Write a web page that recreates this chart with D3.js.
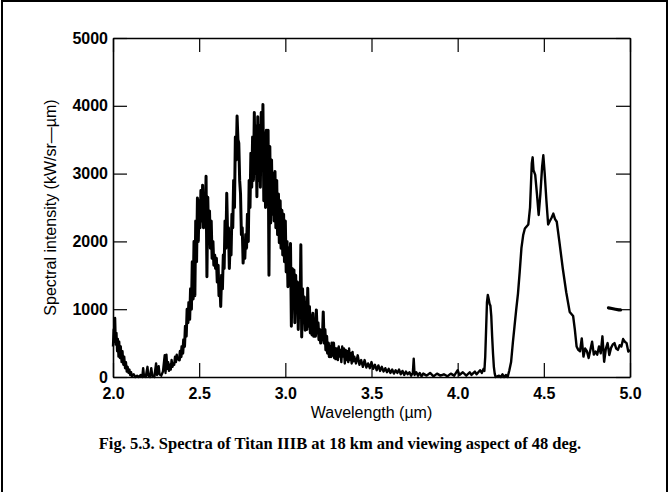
<!DOCTYPE html>
<html>
<head>
<meta charset="utf-8">
<script src="https://cdn.jsdelivr.net/npm/d3@7"></script>
<style>
  html, body { margin: 0; padding: 0; background: #fff; }
  svg { display: block; }
  .tick-label { font-family: "Liberation Sans", Arial, Helvetica, sans-serif; font-weight: bold; font-size: 16px; fill: #000; }
  .axis-title { font-family: "Liberation Sans", Arial, Helvetica, sans-serif; font-size: 16px; fill: #000; }
  .caption { font-family: "Liberation Serif", "Times New Roman", serif; font-weight: bold; font-size: 16.5px; fill: #000; }
</style>
</head>
<body>
<script>
// ---------------- data ----------------
const xTicks = [2.0, 2.5, 3.0, 3.5, 4.0, 4.5, 5.0];
const yTicks = [0, 1000, 2000, 3000, 4000, 5000];
const xTitle = "Wavelength (\u00b5m)";
const yTitle = "Spectral intensity (kW/sr\u2014\u00b5m)";
const caption = "Fig. 5.3. Spectra of Titan IIIB at 18 km and viewing aspect of 48 deg.";

// [wavelength (um), spectral intensity (kW/sr-um)]
const specShortWave = [
  [2.000,450],[2.004,700],[2.008,520],[2.012,870],[2.016,480],[2.020,650],[2.024,380],[2.028,560],
  [2.032,300],[2.036,520],[2.040,280],[2.045,450],[2.050,220],[2.055,380],[2.060,180],[2.065,300],
  [2.070,130],[2.075,220],[2.080,80],[2.085,150],[2.090,60],[2.095,110],[2.100,30],[2.105,70],
  [2.110,10],[2.120,40],[2.130,0],[2.140,20],[2.150,0],[2.160,30],[2.170,0],[2.175,130],
  [2.180,10],[2.190,0],[2.200,150],[2.205,20],[2.215,0],[2.222,130],[2.228,20],[2.240,0],
  [2.250,200],[2.255,30],[2.265,160],[2.270,40],[2.280,20],[2.290,80],[2.300,320],[2.305,60],
  [2.310,330],[2.315,120],[2.320,220],[2.325,90],[2.330,180],[2.335,110],[2.340,250],[2.345,150],
  [2.350,200],[2.355,180],[2.360,300],[2.365,220],[2.370,330],[2.375,260]
];

const specMainBand = [
  [2.380,300],[2.385,250],[2.390,380],[2.395,300],[2.400,450],[2.405,350],[2.410,550],[2.415,450],
  [2.420,750],[2.425,600],[2.430,1000],[2.435,800],[2.440,1100],[2.445,850],[2.450,1300],[2.455,1000],
  [2.460,1700],[2.465,1150],[2.470,2000],[2.475,1200],[2.480,2300],[2.485,1700],[2.490,2640],[2.495,2000],
  [2.500,2600],[2.505,2200],[2.510,2750],[2.515,2300],[2.520,2830],[2.525,2200],[2.530,2700],[2.535,2300],
  [2.540,2960],[2.545,1480],[2.550,2650],[2.555,2000],[2.560,2450],[2.565,1900],[2.570,2300],[2.575,1750],
  [2.580,2000],[2.585,1650],[2.590,1800],[2.595,1600],[2.600,1750],[2.605,1400],[2.610,1650],[2.615,1200],
  [2.620,1400],[2.625,1040],[2.630,1500],[2.635,1300],[2.640,1800],[2.645,1600],[2.650,2300],[2.655,1900],
  [2.660,2710],[2.665,2100],[2.670,2200],[2.675,1600],[2.680,2000],[2.685,1800],[2.690,2400],[2.695,2200],
  [2.700,2900],[2.705,2500],[2.710,3540],[2.715,3200],[2.720,3850],[2.725,3500],[2.730,3450],[2.735,2900],
  [2.740,2700],[2.745,2100],[2.750,2200],[2.755,1680],[2.760,1900],[2.765,1750],[2.770,2100],[2.775,1900],
  [2.780,2400],[2.785,2000],[2.790,2900],[2.795,2500],[2.800,3300],[2.805,2800],[2.810,3540],[2.815,2900],
  [2.820,3900],[2.825,3000],[2.830,3700],[2.835,2660],[2.840,3840],[2.845,2900],[2.850,3700],[2.855,2800],
  [2.860,3900],[2.865,3150],[2.870,4020],[2.875,2600],[2.880,3600],[2.885,2500],[2.890,3640],[2.895,2800],
  [2.900,3640],[2.905,1500],[2.910,3400],[2.915,2270],[2.920,3200],[2.925,2400],[2.930,3000],[2.935,2300],
  [2.940,3030],[2.945,2200],[2.950,2900],[2.955,2100],[2.960,2700],[2.965,1980],[2.970,2600],[2.975,1900],
  [2.980,2460],[2.985,1800],[2.990,2400],[2.995,1700],[3.000,2300],[3.005,1550],[3.010,2000],[3.015,1330],
  [3.020,1900],[3.025,1400],[3.030,1970],[3.035,750],[3.040,1600],[3.045,1100],[3.050,1580],[3.055,800],
  [3.060,1500],[3.065,1000],[3.070,1400],[3.075,700],[3.080,1300],[3.085,900],[3.090,1950],[3.095,590],
  [3.100,1300],[3.105,800],[3.110,1180],[3.115,690],[3.120,1100],[3.125,700],[3.130,1310],[3.135,750],
  [3.140,1040],[3.145,650],[3.150,900],[3.155,620],[3.160,940],[3.165,600],[3.170,850],[3.175,600],
  [3.180,990],[3.185,650],[3.190,800],[3.195,550],[3.200,700],[3.205,500],[3.210,600],[3.215,550],
  [3.220,960],[3.225,500],[3.230,700],[3.235,400],[3.240,600],[3.245,350],[3.250,500],[3.255,300],
  [3.260,450],[3.265,300],[3.270,500],[3.275,320],[3.280,500],[3.285,280],[3.290,420],[3.295,250]
];

const specTail = [
  [3.300,420],[3.305,250],[3.310,450],[3.315,300],[3.320,400],[3.325,220],[3.330,450],[3.335,300],
  [3.340,420],[3.345,200],[3.350,400],[3.355,250],[3.360,380],[3.365,220],[3.370,420],[3.375,250],
  [3.380,350],[3.385,200],[3.390,370],[3.395,230],[3.400,300],[3.410,200],[3.420,320],[3.430,180],
  [3.440,250],[3.450,150],[3.460,250],[3.470,140],[3.480,200],[3.490,130],[3.500,220],[3.510,120],
  [3.520,180],[3.530,100],[3.540,170],[3.550,90],[3.560,150],[3.570,80],[3.580,130],[3.590,70],
  [3.600,120],[3.610,60],[3.620,110],[3.630,50],[3.640,100],[3.650,60],[3.660,110],[3.670,40],
  [3.680,90],[3.690,30],[3.700,80],[3.710,40],[3.720,70],[3.730,20],[3.740,60],[3.745,270],
  [3.750,30],[3.760,70],[3.770,20],[3.780,60],[3.790,10],[3.800,50],[3.820,20],[3.840,60],
  [3.860,10],[3.880,50],[3.900,20],[3.920,40],[3.940,10],[3.960,50],[3.980,20],[4.000,100],
  [4.010,30],[4.030,70],[4.050,20],[4.070,70],[4.080,30],[4.100,80],[4.110,40],[4.130,100],
  [4.140,60],[4.150,120],[4.155,90]
];

const specCO2Band = [
  [4.160,300],[4.165,700],[4.170,1100],[4.175,1210],[4.180,1150],[4.185,1080],[4.190,1050],[4.195,900],
  [4.200,600],[4.205,350],[4.210,150],[4.215,50],[4.220,0],[4.240,20],[4.250,0],[4.260,40],
  [4.270,0],[4.280,30],[4.290,0],[4.300,100],[4.310,220],[4.320,500],[4.330,750],[4.340,1000],
  [4.350,1230],[4.360,1550],[4.370,1900],[4.380,2090],[4.390,2190],[4.400,2220],[4.410,2250],[4.420,2500],
  [4.430,3150],[4.435,3240],[4.440,3050],[4.450,2980],[4.460,2700],[4.470,2390],[4.480,2700],[4.490,3100],
  [4.497,3270],[4.505,3000],[4.515,2600],[4.525,2250],[4.535,2300],[4.545,2350],[4.555,2410],[4.565,2330],
  [4.575,2290],[4.590,2000],[4.610,1600],[4.630,1250],[4.650,960],[4.660,930],[4.670,900],[4.680,700],
  [4.690,450],[4.700,400],[4.710,380],[4.720,570],[4.730,300],[4.740,420],[4.750,380],[4.760,280],
  [4.770,400],[4.780,520],[4.790,330],[4.800,375],[4.810,330],[4.820,450],[4.830,350],[4.840,600],
  [4.850,225],[4.860,420],[4.870,500],[4.880,325],[4.890,430],[4.900,480],[4.910,500],[4.920,420],
  [4.930,400],[4.940,470],[4.950,450],[4.960,560],[4.970,520],[4.980,500],[4.990,375],[5.000,400]
];

// short stray trace near the right edge
const specStray = [[4.875,1020],[4.895,1010],[4.915,1000],[4.935,990],[4.945,990]];

// ---------------- chart ----------------
const W = 670, H = 492;
const svg = d3.select("body").append("svg").attr("width", W).attr("height", H);

// page border
svg.append("path")
  .attr("d", "M2,492 V1 H667 V492")
  .attr("fill", "none").attr("stroke", "#000").attr("stroke-width", 2);

const x = d3.scaleLinear().domain([2, 5]).range([113, 630]);
const y = d3.scaleLinear().domain([0, 5000]).range([377, 38]);

const line = d3.line().x(d => x(d[0])).y(d => y(d[1]));

const plot = svg.append("g");
// quieter parts of the spectrum
const quiet = [specShortWave.concat([specMainBand[0]]), [specMainBand[specMainBand.length - 1]].concat(specTail, specCO2Band)];
plot.selectAll("path.quiet").data(quiet).join("path")
  .attr("class", "quiet")
  .attr("d", line)
  .attr("fill", "none")
  .attr("stroke", "#000")
  .attr("stroke-width", 2.4)
  .attr("stroke-linejoin", "round");

// dense noisy main band (heavier trace, as in the scan)
plot.append("path")
  .datum(specMainBand)
  .attr("d", line)
  .attr("fill", "none")
  .attr("stroke", "#000")
  .attr("stroke-width", 3)
  .attr("stroke-linejoin", "round");

plot.append("path")
  .datum(specStray)
  .attr("d", line)
  .attr("fill", "none")
  .attr("stroke", "#000")
  .attr("stroke-width", 3.2)
  .attr("stroke-linecap", "round");

// axes (ticks point inward)
const fmtX = d3.format(".1f");
const gB = svg.append("g").attr("transform", `translate(0,${y(0)})`)
  .call(d3.axisBottom(x).tickValues(xTicks).tickSize(-14).tickSizeOuter(0).tickPadding(11).tickFormat(fmtX));
const gL = svg.append("g").attr("transform", `translate(${x(2)},0)`)
  .call(d3.axisLeft(y).tickValues(yTicks).tickSize(-14).tickSizeOuter(0).tickPadding(5).tickFormat(d3.format("d")));
const gT = svg.append("g").attr("transform", `translate(0,${y(5000)})`)
  .call(d3.axisTop(x).tickValues(xTicks).tickSize(-14).tickSizeOuter(0).tickFormat(""));
const gR = svg.append("g").attr("transform", `translate(${x(5)},0)`)
  .call(d3.axisRight(y).tickValues(yTicks).tickSize(-14).tickSizeOuter(0).tickFormat(""));

[gB, gL, gT, gR].forEach(g => {
  g.attr("font-family", null).attr("font-size", null);
  g.select(".domain").attr("stroke", "#000").attr("stroke-width", 1.6);
  g.selectAll(".tick line").attr("stroke", "#000").attr("stroke-width", 1.2);
  g.selectAll(".tick text").attr("class", "tick-label");
});

// axis titles
svg.append("text").attr("class", "axis-title")
  .attr("x", (x(2) + x(5)) / 2).attr("y", 418)
  .attr("text-anchor", "middle").text(xTitle);

svg.append("text").attr("class", "axis-title")
  .attr("transform", `translate(56,${(y(0) + y(5000)) / 2}) rotate(-90)`)
  .attr("text-anchor", "middle").text(yTitle);

// caption
svg.append("text").attr("class", "caption")
  .attr("x", 340).attr("y", 449)
  .attr("text-anchor", "middle").text(caption);
</script>
</body>
</html>
